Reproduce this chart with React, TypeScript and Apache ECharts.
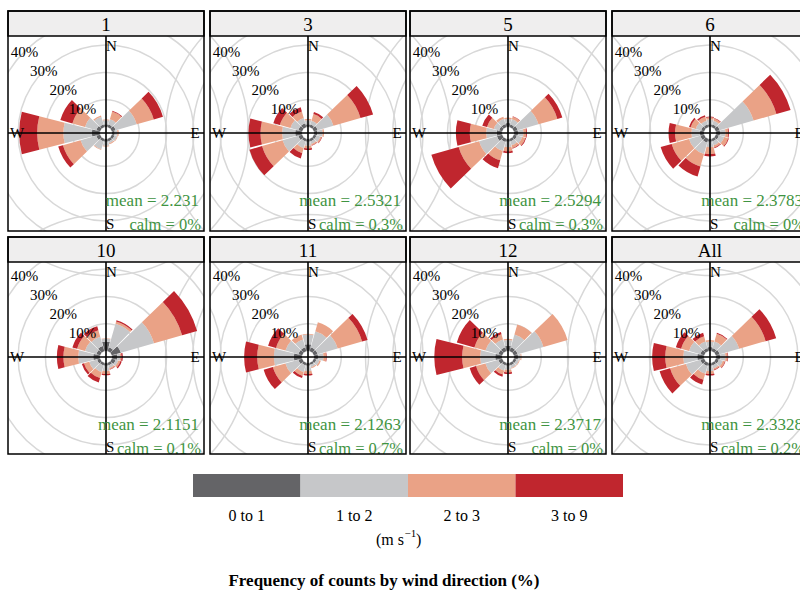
import React, { useEffect, useRef } from 'react';
import * as echarts from 'echarts';

// ---------- data ----------
const directions = ['0', '30', '60', '90', '120', '150', '180', '210', '240', '270', '300', '330'];
const speedBins = ['0 to 1', '1 to 2', '2 to 3', '3 to 9'];
const binColors = ['#646467', '#c6c7c9', '#eaa286', '#c0262e'];
const panelTitles = ['1', '3', '5', '6', '10', '11', '12', 'All'];
const meanLabels = ['2.231', '2.5321', '2.5294', '2.3783', '2.1151', '2.1263', '2.3717', '2.3328'];
const calmLabels = ['0%', '0.3%', '0.3%', '0%', '0.1%', '0.7%', '0%', '0.2%'];
const ringTicks = [10, 20, 30, 40];

// per direction: [0 to 1, 1 to 2, 2 to 3, 3 to 9] (% of counts)
const month1 = [[1, 1.5, 0.3, 0], [1, 2, 3, 0.3], [1.5, 8, 6.5, 3.5], [1, 1, 0.5, 0], [1, 1, 0.3, 0], [1, 0.8, 0.3, 0], [1, 1.5, 0.3, 0], [1, 3, 0.3, 0], [1.5, 6, 6.7, 1.8], [3, 10.4, 9.6, 6.6], [1.5, 4.3, 4.8, 4.6], [1, 3, 0.5, 0]];
const month3 = [[1, 1.5, 0.5, 0], [1, 1.5, 2.5, 0.8], [1.5, 6, 10.3, 4.8], [1.2, 2, 0.5, 0], [1, 1.5, 0.5, 0.2], [1, 1, 0.5, 0.2], [1, 1.5, 1, 0.5], [1, 2.5, 2, 2], [1.5, 6, 7.8, 4.8], [2.5, 4.8, 7.9, 4.4], [1.5, 3, 4, 2.5], [1.5, 2, 2.5, 1.6]];
const month5 = [[1.5, 1.5, 0.5, 0], [1, 2, 1, 0.2], [1.5, 7.9, 7.2, 1.9], [1.5, 2, 1, 0.3], [1.2, 2, 1.2, 0.3], [1, 1.5, 1, 0.3], [1, 2, 1.5, 0.7], [1.2, 3.5, 3.5, 3], [2, 6.8, 7.8, 10.4], [2, 3.8, 6, 5.1], [1.2, 2, 2.6, 1.8], [1.2, 2, 0.8, 0]];
const month6 = [[1, 1.8, 0.8, 0.2], [1, 1.5, 0.8, 0.2], [1.5, 12.9, 8.7, 5.4], [1.5, 2, 1, 0.3], [1.2, 2, 1.5, 0.3], [1, 1.5, 0.8, 0.3], [1, 2, 2.5, 0.9], [1.5, 4.3, 4.8, 3.8], [1.5, 4.3, 6.6, 4.2], [1.5, 3.1, 6, 2.4], [1.2, 2, 2, 0.6], [1, 1.5, 1.5, 0.6]];
const month10 = [[3.5, 1, 0.2, 0], [1.5, 9, 0.8, 0.5], [3.5, 12.6, 10.7, 5.7], [2, 1, 0.5, 0.5], [1.5, 1, 0.8, 0.5], [1, 1, 0.5, 0.2], [1, 2, 1, 0.5], [1, 2.5, 2.3, 1.7], [1.2, 3, 2, 0.8], [2.5, 5.5, 5.4, 2.4], [1.5, 4.3, 3, 1.8], [2, 3.5, 2.5, 1.5]];
const month11 = [[2.5, 3.5, 0.3, 0], [1.5, 6.1, 3.4, 0], [1.5, 7.6, 9.3, 2.1], [1.5, 2, 1, 0.2], [1, 1.2, 0.5, 0], [0.8, 1, 0.3, 0], [1, 2, 1, 0.6], [1, 2.5, 1.5, 0.8], [1.5, 4.9, 4.8, 3.5], [3, 7.3, 6.1, 4.8], [1.5, 4.9, 3.6, 3], [1.5, 3, 1.9, 0]];
const month12 = [[2, 2, 0.5, 0], [1.5, 4.9, 3.8, 0], [1.5, 9.8, 9.2, 0], [1.5, 1, 0.3, 0], [1, 1, 0.3, 0], [1, 1, 0.3, 0], [1, 1.5, 1, 0.5], [1, 2, 1.5, 0.8], [1.5, 4.9, 3.6, 2.4], [2.5, 5.5, 6.6, 10.2], [1.5, 4.9, 4.2, 6.7], [1.5, 3, 2, 0.8]];
const allMonths = [[1.5, 2, 0.5, 0], [1.2, 2.5, 3, 0.3], [1.5, 7.4, 10.1, 4], [1.5, 2, 0.8, 0.2], [1.2, 1.5, 0.8, 0.2], [1, 1.2, 0.5, 0.2], [1, 2, 1, 0.6], [1.2, 3, 2.3, 1.8], [1.5, 5.5, 6, 4], [2.5, 5.1, 6.6, 4.8], [1.5, 4.3, 3, 2], [1.2, 2.5, 2, 1.3]];
const panelData = [month1, month3, month5, month6, month10, month11, month12, allMonths];

// ---------- layout ----------
const FONT = 'Liberation Serif';
const colLeft = [8, 210, 410, 612];
const rowTop = [11, 237];
const rowBottom = [231, 454];
const rowCenter = [133, 357];
const panelW = 196;
const headerH = 25;
const R0 = 6;
const PX_PER_PCT = 2.73;
const RMAX = 50;
const GREEN = '#3f9442';

const txt = (text: string, x: number, y: number, size: number, align: string, fill = '#000', z = 53, weight = 'normal') => ({
  type: 'text', z, x, y, silent: true,
  style: { text, fontFamily: FONT, fontSize: size, fontWeight: weight, fill, align, verticalAlign: 'middle' },
});

function buildOption() {
  const polar: any[] = [];
  const angleAxis: any[] = [];
  const radiusAxis: any[] = [];
  const series: any[] = [];
  const graphic: any[] = [];

  const ringColors = ['rgba(0,0,0,0)', '#d8d8d8', '#d8d8d8', '#d8d8d8', '#d8d8d8', '#d8d8d8'];

  panelData.forEach((pd, i) => {
    const col = i % 4;
    const row = Math.floor(i / 4);
    const cx = colLeft[col] + panelW / 2;
    const cy = rowCenter[row];
    polar.push({ center: [cx, cy], radius: [R0, R0 + RMAX * PX_PER_PCT] });
    angleAxis.push({
      polarIndex: i, type: 'category', data: directions, startAngle: 105, clockwise: true,
      boundaryGap: true,
      axisLine: { show: false }, axisTick: { show: false }, axisLabel: { show: false },
      splitLine: { show: false }, splitArea: { show: false },
    });
    radiusAxis.push({
      polarIndex: i, type: 'value', min: 0, max: RMAX, interval: 10,
      axisLine: { show: false }, axisTick: { show: false }, axisLabel: { show: false },
      splitLine: { show: true, lineStyle: { color: ringColors, width: 1.5 } },
    });
    speedBins.forEach((name, b) => {
      series.push({
        type: 'bar', coordinateSystem: 'polar', polarIndex: i, stack: 'p' + i, name,
        data: pd.map((d) => d[b]), barCategoryGap: '6%', silent: true,
        itemStyle: { color: binColors[b] },
      });
    });
  });

  // masks (white) outside the panel plot areas
  const mask = (x: number, y: number, w: number, h: number) =>
    graphic.push({ type: 'rect', z: 50, shape: { x, y, width: w, height: h }, style: { fill: '#ffffff' }, silent: true });
  mask(0, 0, 800, rowTop[0]);
  mask(0, rowBottom[0], 800, rowTop[1] - rowBottom[0]);
  mask(0, rowBottom[1], 800, 591 - rowBottom[1]);
  mask(0, 0, colLeft[0], 591);
  for (let c = 0; c < 3; c++) mask(colLeft[c] + panelW, 0, colLeft[c + 1] - colLeft[c] - panelW, 591);

  panelData.forEach((_, i) => {
    const col = i % 4;
    const row = Math.floor(i / 4);
    const L = colLeft[col];
    const T = rowTop[row];
    const B = rowBottom[row];
    const cx = L + panelW / 2;
    const cy = rowCenter[row];
    // cross lines
    graphic.push({ type: 'line', z: 52, silent: true, shape: { x1: L, y1: cy, x2: L + panelW, y2: cy }, style: { stroke: '#000', lineWidth: 1.6 } });
    graphic.push({ type: 'line', z: 52, silent: true, shape: { x1: cx, y1: T + headerH, x2: cx, y2: B }, style: { stroke: '#000', lineWidth: 1.6 } });
    // ring labels
    ringTicks.forEach((p) => {
      const r = R0 + p * PX_PER_PCT;
      graphic.push(txt(p + '%', cx - 0.7071 * r, cy - 0.7071 * r, 15, 'center'));
    });
    // direction labels
    graphic.push(txt('N', cx, T + headerH + 10, 15, 'left'));
    graphic.push(txt('S', cx, B - 7, 15, 'left'));
    graphic.push(txt('W', L + 2, cy, 15, 'left'));
    graphic.push(txt('E', cx + 89, cy, 15, 'center'));
    // mean / calm
    graphic.push(txt('mean = ' + meanLabels[i], cx + 93, cy + 67, 17, 'right', GREEN));
    graphic.push(txt('calm = ' + calmLabels[i], cx + 95, cy + 91, 16.5, 'right', GREEN));
    // header strip
    graphic.push({ type: 'rect', z: 54, silent: true, shape: { x: L, y: T, width: panelW, height: headerH }, style: { fill: '#efeeee', stroke: '#000', lineWidth: 1.5 } });
    graphic.push(txt(panelTitles[i], cx, T + headerH / 2 + 1, 19, 'center', '#000', 55));
    // panel border
    graphic.push({ type: 'rect', z: 55, silent: true, shape: { x: L, y: T, width: panelW, height: B - T }, style: { fill: 'none', stroke: '#000', lineWidth: 1.5 } });
  });

  // legend
  const legL = 193;
  const segW = 107.5;
  speedBins.forEach((name, b) => {
    graphic.push({ type: 'rect', z: 55, silent: true, shape: { x: legL + b * segW, y: 474, width: segW, height: 23 }, style: { fill: binColors[b] } });
    graphic.push(txt(name, legL + (b + 0.5) * segW, 515, 16, 'center', '#000', 55));
  });
  graphic.push(txt('(m s', 404, 539, 16, 'right', '#000', 55));
  graphic.push(txt('\u22121', 404.5, 533, 11, 'left', '#000', 55));
  graphic.push(txt(')', 416, 539, 16, 'left', '#000', 55));
  graphic.push(txt('Frequency of counts by wind direction (%)', 384, 580, 17, 'center', '#000', 55, 'bold'));

  return {
    animation: false,
    backgroundColor: '#ffffff',
    polar, angleAxis, radiusAxis, series, graphic,
  };
}

export default function App() {
  const ref = useRef<HTMLDivElement>(null);
  useEffect(() => {
    const chart = echarts.init(ref.current!, null, { renderer: 'svg' });
    chart.setOption(buildOption() as any);
    return () => chart.dispose();
  }, []);
  return (
    <div
      ref={ref}
      style={{ position: 'fixed', left: 0, top: 0, width: 800, height: 591, background: '#fff' }}
    />
  );
}
